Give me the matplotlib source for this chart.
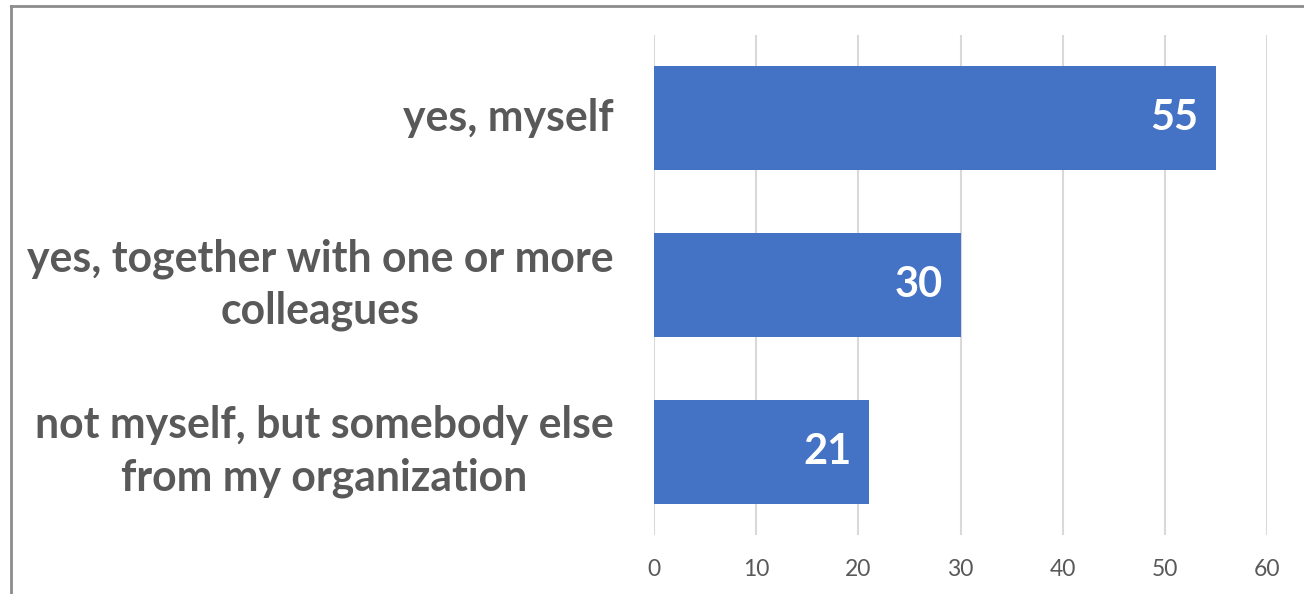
import matplotlib.pyplot as plt
from matplotlib.lines import Line2D

plt.rcParams['font.family'] = ['Lato', 'DejaVu Sans']

categories = ['yes, myself',
              'yes, together with one or more\ncolleagues',
              'not myself, but somebody else\nfrom my organization']
values = [55, 30, 21]
ticks = [0, 10, 20, 30, 40, 50, 60]

grey = '#595959'
blue = '#4472C4'

fig = plt.figure(figsize=(13.04, 5.94), dpi=100)
ax = fig.add_axes([654/1304, 59/594, 613/1304, 500/594])

ypos = list(range(len(categories)))
bars = ax.barh(ypos, values, height=0.625, color=blue, zorder=2)
ax.set_ylim(len(categories) - 0.5, -0.5)
ax.set_xlim(0, 60)
ax.set_xticks(ticks)
ax.set_yticks(ypos)
ax.set_yticklabels(categories, fontsize=30.8, fontweight='bold', color=grey,
                   multialignment='center', linespacing=1.36, va='center')
ax.tick_params(axis='y', length=0, pad=29)
ax.tick_params(axis='x', length=0, pad=17, labelsize=16.5, labelcolor=grey)
ax.xaxis.grid(True, color='#D9D9D9', linewidth=1.5, zorder=0)
for s in ax.spines.values():
    s.set_visible(False)

for b, v in zip(bars, values):
    ax.text(v - 1.7, b.get_y() + b.get_height() / 2, str(v), ha='right',
            va='center', fontsize=30, fontweight='bold', color='white')

# outer frame (only left and top visible in the crop)
fig.add_artist(Line2D([11/1304, 11/1304], [0, 1 - 6/594], transform=fig.transFigure,
                      color='#8C8C8C', linewidth=2))
fig.add_artist(Line2D([11/1304, 1], [1 - 6/594, 1 - 6/594], transform=fig.transFigure,
                      color='#8C8C8C', linewidth=2))

fig.savefig('out.png', dpi=100)
